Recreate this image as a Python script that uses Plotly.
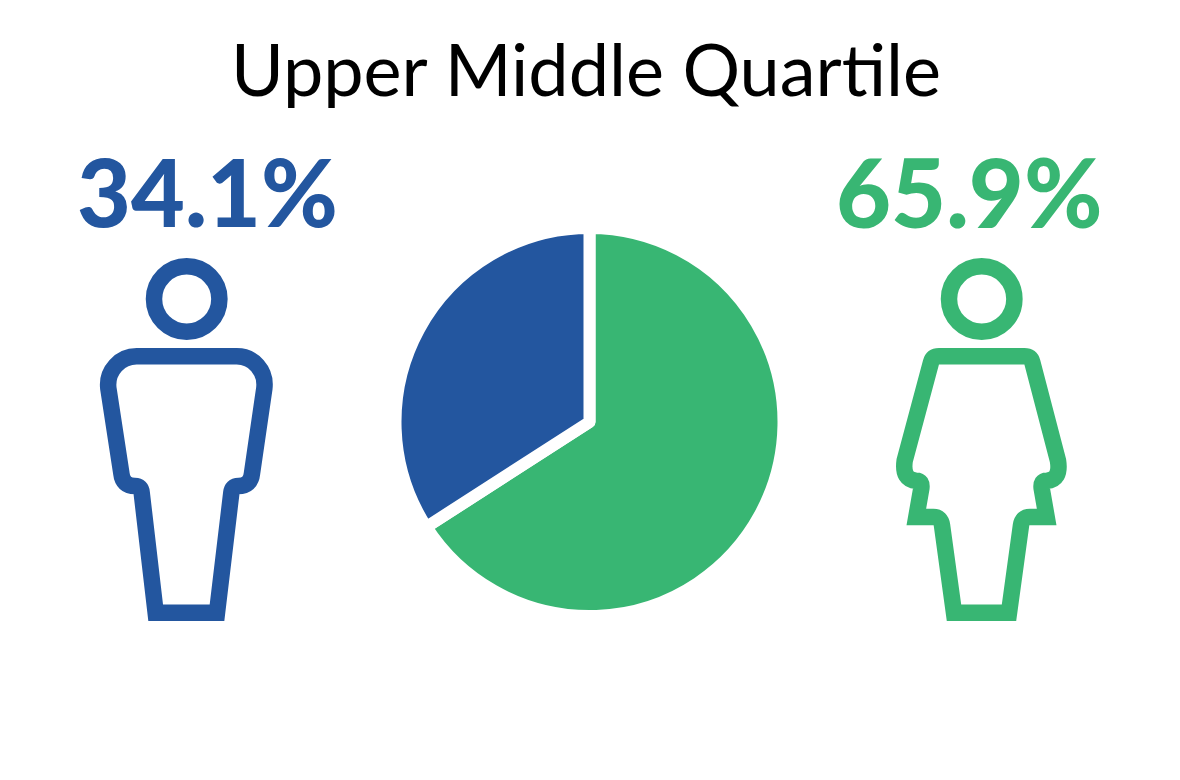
import plotly.graph_objects as go

W, H = 1180, 780
PAGE_MARGIN = 8  # the browser's default body margin shifts the figure
TITLE = "Upper Middle Quartile"
GROUPS = ["Women", "Men"]
SHARES = [65.9, 34.1]
COLORS = ["#38B673", "#23569F"]
GREEN, BLUE = COLORS


def fx(x):
    return (x - PAGE_MARGIN) / W


def fy(y):
    return 1 - (y - PAGE_MARGIN) / H


def px(x, y):
    return f"{fx(x):.5f},{fy(y):.5f}"


def icon_path(cmds, ox, oy):
    out = []
    for c in cmds:
        if c == "Z":
            out.append("Z")
        else:
            pts = " ".join(px(ox + c[i] / 3, oy + c[i + 1] / 3) for i in range(1, len(c), 2))
            out.append(c[0] + " " + pts)
    return " ".join(out)


MAN = [
    ("M", 170, 349), ("L", 470, 349), ("C", 520, 349, 559, 392, 553, 445), ("L", 516, 700),
    ("Q", 512, 738, 475, 738), ("Q", 456, 738, 454, 758), ("L", 411, 1118), ("L", 227, 1118),
    ("L", 185, 758), ("Q", 183, 738, 165, 738), ("Q", 128, 738, 124, 700), ("L", 85, 445),
    ("C", 79, 392, 120, 349, 170, 349), "Z",
]
WOMAN = [
    ("M", 207, 349), ("L", 463, 349), ("Q", 482, 349, 487, 367), ("L", 564, 662),
    ("Q", 573, 720, 530, 722), ("Q", 512, 722, 515, 745), ("L", 530, 831), ("L", 480, 831),
    ("Q", 456, 831, 453, 856), ("L", 417, 1118), ("L", 252, 1118), ("L", 216, 856),
    ("Q", 213, 831, 190, 831), ("L", 139, 831), ("L", 154, 745), ("Q", 157, 722, 139, 722),
    ("Q", 96, 720, 104, 662), ("L", 183, 367), ("Q", 188, 349, 207, 349), "Z",
]


def circle(cx, cy, r, color):
    return dict(type="circle", xref="paper", yref="paper",
                x0=fx(cx - r), x1=fx(cx + r), y0=fy(cy + r), y1=fy(cy - r),
                line=dict(color=color, width=16.5), fillcolor="rgba(0,0,0,0)")


def body(cmds, ox, oy, color):
    return dict(type="path", xref="paper", yref="paper", path=icon_path(cmds, ox, oy),
                line=dict(color=color, width=16.5), fillcolor="rgba(0,0,0,0)")


R = 194
CX, CY = 589.5, 422
fig = go.Figure(go.Pie(
    labels=GROUPS, values=SHARES, sort=False, direction="clockwise", rotation=0,
    marker=dict(colors=COLORS, line=dict(color="white", width=12)),
    textinfo="none", hoverinfo="label+percent", showlegend=False,
    domain=dict(x=[fx(CX - R), fx(CX + R)], y=[fy(CY + R), fy(CY - R)]),
))

fig.update_layout(
    width=W, height=H, margin=dict(l=0, r=0, t=0, b=0), paper_bgcolor="white",
    showlegend=False,
    shapes=[
        circle(186.7, 299, 32.7, BLUE), body(MAN, 80, 240, BLUE),
        circle(981.7, 299, 32.7, GREEN), body(WOMAN, 870, 240, GREEN),
    ],
    annotations=[
        dict(text=TITLE, x=fx(586), y=fy(68), xref="paper", yref="paper", showarrow=False,
             xanchor="center", yanchor="middle",
             font=dict(family="Lato", size=72, color="black", weight=400)),
        dict(text=f"{SHARES[1]}%", x=fx(207.5), y=fy(190.5), xref="paper", yref="paper", showarrow=False,
             xanchor="center", yanchor="middle",
             font=dict(family="Lato", size=93, color=BLUE, weight=900)),
        dict(text=f"{SHARES[0]}%", x=fx(969), y=fy(190.5), xref="paper", yref="paper", showarrow=False,
             xanchor="center", yanchor="middle",
             font=dict(family="Lato", size=95, color=GREEN, weight=900)),
    ],
)
fig.write_html("out.html", config=dict(displayModeBar=False))
